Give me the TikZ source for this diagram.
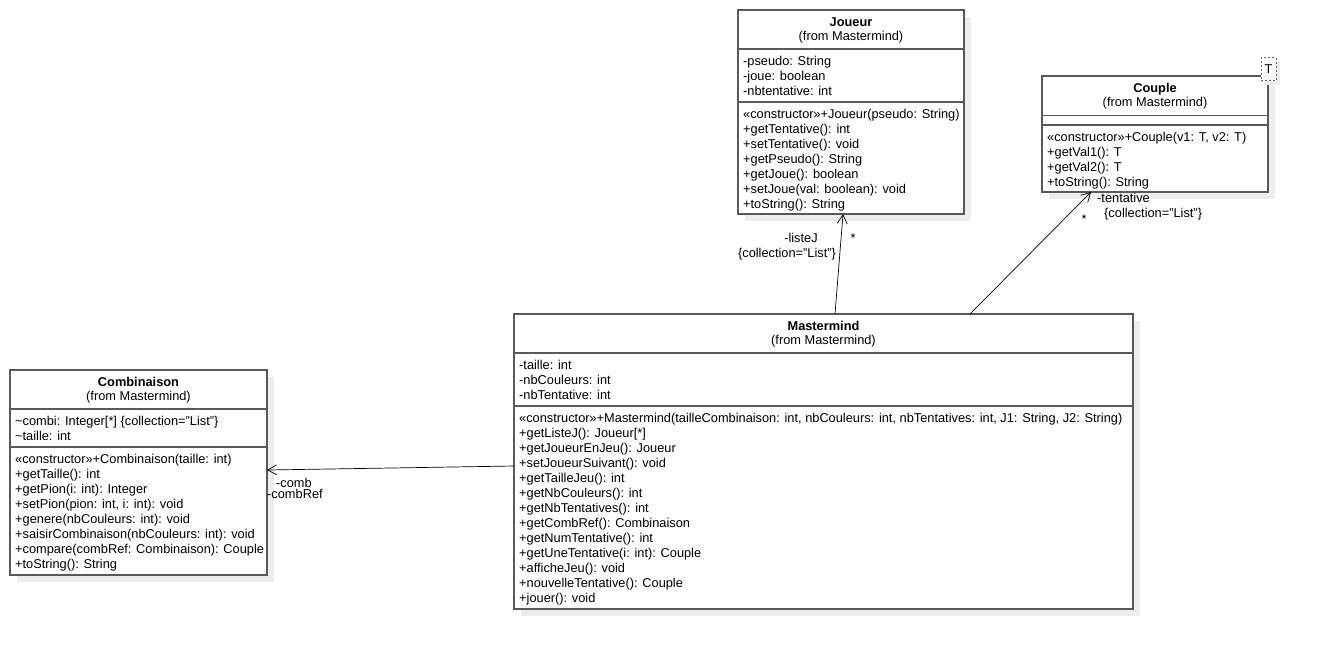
\documentclass[tikz,border=0pt]{standalone}
\usepackage{fontspec}
\setmainfont{Liberation Sans}
\usetikzlibrary{arrows.meta,shadows}

\begin{document}
\begin{tikzpicture}[x=1pt,y=-1pt,
	classbox/.style={draw=black!65,line width=1.1pt,fill=white,inner sep=0pt,outer sep=0pt,
		general shadow={fill=black!7,shadow xshift=7pt,shadow yshift=-7pt}},
	sep/.style={draw=black!65,line width=1.1pt},
	txt/.style={inner sep=0pt,font=\fontsize{12.8}{15}\selectfont},
	members/.style={txt,align=left,anchor=base west},
	title/.style={txt,anchor=base,font=\fontsize{12.8}{15}\selectfont\bfseries},
	from/.style={txt,anchor=base},
	assoc/.style={line width=.7pt,-{Straight Barb[length=9pt,width=10pt]}}]
	
	\useasboundingbox (0,0) rectangle (1318,649);
	
	% Joueur
	\node[classbox,minimum width=226,minimum height=204] (joueur) at (851,112) {};
	\draw[sep] (738,49) -- (964,49);
	\draw[sep] (738,102) -- (964,102);
	\node[title] (joueurT) at (851,26) {Joueur};
	\node[from] (joueurF) at (851,40.5) {(from Mastermind)};
	\node[members] (joueurA) at (743,95) {-pseudo: String\\-joue: boolean\\-nbtentative: int};
	\node[members] (joueurM) at (743,208) {«constructor»+Joueur(pseudo: String)\\+getTentative(): int\\+setTentative(): void\\+getPseudo(): String\\+getJoue(): boolean\\+setJoue(val: boolean): void\\+toString(): String};
	
	% Couple
	\node[classbox,minimum width=226,minimum height=116] (couple) at (1155,134) {};
	\draw[sep] (1042,115.5) -- (1268,115.5);
	\draw[sep] (1042,125) -- (1268,125);
	\node[title] (coupleT) at (1155,92) {Couple};
	\node[from] (coupleF) at (1155,106.5) {(from Mastermind)};
	\node[members] (coupleM) at (1047,186) {«constructor»+Couple(v1: T, v2: T)\\+getVal1(): T\\+getVal2(): T\\+toString(): String};
	\node[draw=black!60,dashed,dash pattern=on 2pt off 2pt,fill=white,minimum width=15,minimum height=23,inner sep=0pt,
		font=\fontsize{12.8}{15}\selectfont,general shadow={fill=black!7,shadow xshift=4pt,shadow yshift=-4pt}] (coupleP) at (1268.5,69) {T};
	
	% Combinaison
	\node[classbox,minimum width=257,minimum height=205] (combinaison) at (138.5,472.5) {};
	\draw[sep] (10,409) -- (267,409);
	\draw[sep] (10,447) -- (267,447);
	\node[title] (combinaisonT) at (138.5,386) {Combinaison};
	\node[from] (combinaisonF) at (138.5,400.5) {(from Mastermind)};
	\node[members] (combinaisonA) at (15,440) {\textasciitilde combi: Integer[*] \{collection="List"\}\\\textasciitilde taille: int};
	\node[members] (combinaisonM) at (15,568) {«constructor»+Combinaison(taille: int)\\+getTaille(): int\\+getPion(i: int): Integer\\+setPion(pion: int, i: int): void\\+genere(nbCouleurs: int): void\\+saisirCombinaison(nbCouleurs: int): void\\+compare(combRef: Combinaison): Couple\\+toString(): String};
	
	% Mastermind
	\node[classbox,minimum width=619,minimum height=295] (mastermind) at (823.5,461.5) {};
	\draw[sep] (514,353) -- (1133,353);
	\draw[sep] (514,406) -- (1133,406);
	\node[title] (mastermindT) at (823.5,330) {Mastermind};
	\node[from] (mastermindF) at (823.5,344.5) {(from Mastermind)};
	\node[members] (mastermindA) at (519,399) {-taille: int\\-nbCouleurs: int\\-nbTentative: int};
	\node[members] (mastermindM) at (519,602) {«constructor»+Mastermind(tailleCombinaison: int, nbCouleurs: int, nbTentatives: int, J1: String, J2: String)\\+getListeJ(): Joueur[*]\\+getJoueurEnJeu(): Joueur\\+setJoueurSuivant(): void\\+getTailleJeu(): int\\+getNbCouleurs(): int\\+getNbTentatives(): int\\+getCombRef(): Combinaison\\+getNumTentative(): int\\+getUneTentative(i: int): Couple\\+afficheJeu(): void\\+nouvelleTentative(): Couple\\+jouer(): void};
	
	% associations
	\draw[assoc] ([xshift=11.5pt]mastermind.north) -- ([xshift=-8pt]joueur.south);
	\draw[assoc] ([xshift=146.5pt]mastermind.north) -- ([xshift=-64pt]couple.south);
	\draw[assoc] ([yshift=-4.5pt]mastermind.west) -- ([yshift=2.5pt]combinaison.east);
	
	\node[txt] (listeJ) at (801,238) {-listeJ};
	\node[txt] (listeJC) at (787,254) {\{collection="List"\}};
	\node[txt] (listeJS) at (853,238) {*};
	\node[txt,anchor=west] (tentative) at (1097,198) {-tentative};
	\node[txt,anchor=west] (tentativeC) at (1104,214) {\{collection="List"\}};
	\node[txt] (tentativeS) at (1084,219) {*};
	\node[txt,anchor=west] (comb) at (276,483) {-comb};
	\node[txt,anchor=west] (combRef) at (267,494) {-combRef};
	
\end{tikzpicture}
\end{document}
